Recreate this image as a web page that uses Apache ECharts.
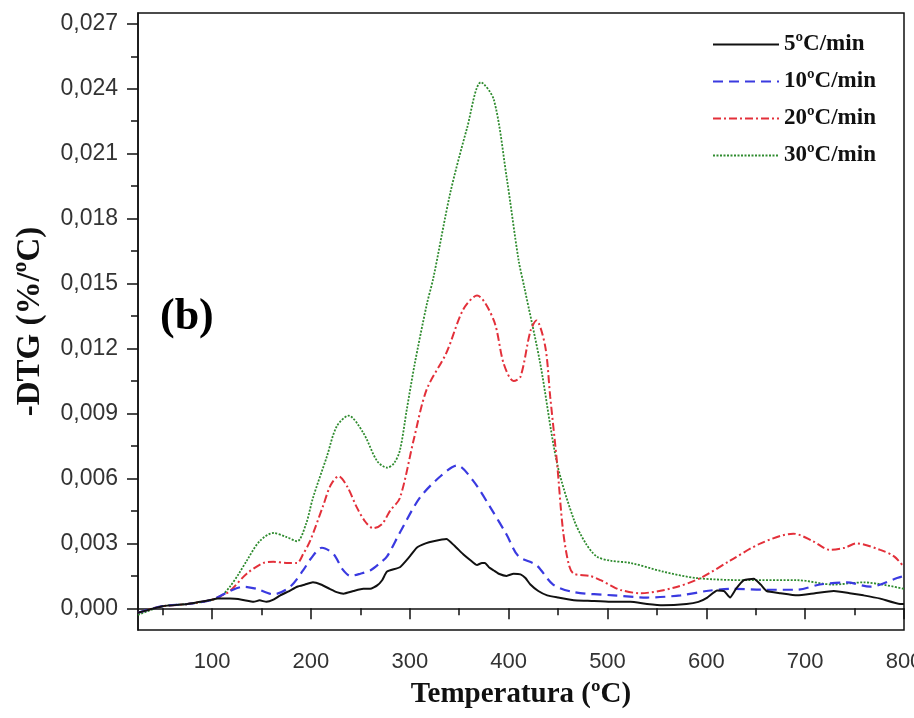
<!DOCTYPE html>
<html><head><meta charset="utf-8">
<script src="https://cdn.jsdelivr.net/npm/echarts@6/dist/echarts.min.js"></script>
<style>html,body{margin:0;padding:0;background:#fff}#c{width:914px;height:718px}</style>
</head><body><div id="c"></div>
<script>
const seriesNames = ['5ºC/min', '10ºC/min', '20ºC/min', '30ºC/min'];

const t5 = [25,50,75,100,105,118,130,142,148,155,162,169,178,186,194,202,210,219,226,233,243,253,260,267,272,277,290,300,307,316,324,337,345,354,362,368,373,376,380,385,390,398,405,412,417,422,430,439,450,466,480,503,523,540,556,580,592,601,611,618,624,630,638,648,655,661,675,692,710,729,745,759,776,796,800];
const v5 = [-0.0002,0.0001,0.0002,0.0004,0.00045,0.00045,0.0004,0.0003,0.00037,0.0003,0.0004,0.0006,0.0008,0.001,0.0011,0.0012,0.0011,0.0009,0.00075,0.00068,0.0008,0.0009,0.0009,0.00106,0.0013,0.0017,0.0019,0.0024,0.0028,0.003,0.0031,0.0032,0.0029,0.0025,0.0022,0.002,0.0021,0.0021,0.0019,0.00175,0.0016,0.0015,0.0016,0.00157,0.0014,0.0011,0.0008,0.0006,0.0005,0.00037,0.00035,0.0003,0.0003,0.0002,0.00014,0.0002,0.0003,0.0005,0.00083,0.0008,0.0005,0.0009,0.0013,0.00137,0.0011,0.0008,0.0007,0.0006,0.0007,0.0008,0.0007,0.0006,0.00045,0.0002,0.0002];

const t10 = [25,50,75,100,118,132,145,162,179,192,200,211,223,232,240,250,260,270,277,290,310,331,348,364,381,398,410,428,445,466,506,540,574,600,624,658,692,715,742,766,793,800];
const v10 = [-0.0002,0.0001,0.0002,0.0004,0.0008,0.001,0.0009,0.00065,0.001,0.00175,0.0023,0.0028,0.0025,0.0018,0.0015,0.0016,0.00175,0.0021,0.0024,0.0035,0.0051,0.0061,0.0066,0.0059,0.0047,0.0034,0.0024,0.002,0.0011,0.00075,0.0006,0.0005,0.0006,0.0008,0.0009,0.00086,0.00086,0.0011,0.0012,0.001,0.0014,0.0015];

const t20 = [25,50,75,100,110,118,135,152,162,175,186,192,199,212,220,228,237,246,255,263,272,280,290,304,317,337,354,368,385,395,405,412,422,428,437,442,449,455,461,466,482,493,503,513,533,567,594,624,655,688,708,725,740,752,776,790,800];
const v20 = [-0.0002,0.0001,0.0002,0.0004,0.0006,0.0008,0.0016,0.0021,0.00215,0.0021,0.0021,0.0025,0.0031,0.0047,0.0057,0.0061,0.0056,0.0047,0.004,0.0037,0.0039,0.0045,0.0051,0.0078,0.0101,0.0118,0.0138,0.01445,0.0133,0.0113,0.0105,0.0107,0.0128,0.0133,0.0121,0.0098,0.0067,0.0036,0.002,0.0016,0.0015,0.0013,0.00106,0.00085,0.0007,0.00095,0.0014,0.0022,0.003,0.00345,0.0031,0.0027,0.0028,0.003,0.0027,0.0024,0.0019];

const t30 = [25,50,75,100,110,118,127,135,148,162,175,186,195,202,216,226,238,253,267,277,284,290,297,305,317,324,341,358,372,385,398,410,416,432,449,466,478,489,503,523,556,590,641,692,728,759,800];
const v30 = [-0.0003,0.0001,0.0002,0.00038,0.0006,0.001,0.0016,0.0022,0.0031,0.00348,0.0033,0.0031,0.0039,0.0051,0.007,0.0084,0.0089,0.0081,0.0068,0.0065,0.0067,0.0073,0.0092,0.0113,0.014,0.0153,0.0192,0.0222,0.0243,0.0235,0.0199,0.0161,0.0148,0.0113,0.0067,0.0041,0.003,0.0024,0.0022,0.0021,0.0017,0.0014,0.0013,0.0013,0.0011,0.0012,0.0009];

const xLabelValues = [100,200,300,400,500,600,700,800];
const xMinorValues = [50,150,250,350,450,550,650,750];
const yLabelValues = [0,0.003,0.006,0.009,0.012,0.015,0.018,0.021,0.024,0.027];
const yMinorValues = [0.0015,0.0045,0.0075,0.0105,0.0135,0.0165,0.0195,0.0225,0.0255];

const zip = (t, v) => t.map((x, i) => [x, v[i]]);
const AX = '#111';
const serif = 'Liberation Serif';

const chart = echarts.init(document.getElementById('c'), null, {renderer: 'canvas'});
const xBase = {type: 'value', min: 25, max: 800, gridIndex: 0, position: 'bottom', splitLine: {show: false}};
const yBase = {type: 'value', min: -0.001, max: 0.0275, position: 'left', splitLine: {show: false}};

chart.setOption({
  animation: false,
  backgroundColor: '#fff',
  grid: {left: 138, right: 10, top: 13, bottom: 88, outerBoundsMode: 'none', containLabel: false,
    show: true, borderColor: AX, borderWidth: 1.5, backgroundColor: 'transparent'},
  xAxis: [
    Object.assign({}, xBase, {
      axisLine: {show: true, lineStyle: {color: AX, width: 1.5}},
      axisTick: {show: true, customValues: xLabelValues, length: 11, lineStyle: {color: AX, width: 1.5}},
      axisLabel: {customValues: xLabelValues, margin: 21, fontSize: 22, fontFamily: 'Liberation Sans', color: '#333', hideOverlap: false},
      name: 'Temperatura (ºC)', nameLocation: 'middle', nameGap: 50,
      nameTextStyle: {fontFamily: serif, fontWeight: 'bold', fontSize: 29, color: '#111'}
    }),
    Object.assign({}, xBase, {
      axisLine: {show: false},
      axisTick: {show: true, customValues: xMinorValues, length: 7, lineStyle: {color: AX, width: 1.5}},
      axisLabel: {show: false}
    })
  ],
  yAxis: [
    Object.assign({}, yBase, {
      axisLine: {show: true, lineStyle: {color: AX, width: 1.5}},
      axisTick: {show: true, customValues: yLabelValues, length: 11, lineStyle: {color: AX, width: 1.5}},
      axisLabel: {customValues: yLabelValues, margin: 20, fontSize: 23, fontFamily: 'Liberation Sans', color: '#333',
        formatter: v => v.toFixed(3).replace('.', ',')},
      name: '-DTG (%/ºC)', nameLocation: 'middle', nameGap: 91,
      nameTextStyle: {fontFamily: serif, fontWeight: 'bold', fontSize: 33, color: '#111'}
    }),
    Object.assign({}, yBase, {
      axisLine: {show: false},
      axisTick: {show: true, customValues: yMinorValues, length: 7, lineStyle: {color: AX, width: 1.5}},
      axisLabel: {show: false}
    })
  ],
  legend: {
    orient: 'vertical', left: 712, top: 33, padding: 0, itemWidth: 66, itemHeight: 20, itemGap: 14,
    data: seriesNames,
    itemStyle: {opacity: 0},
    textStyle: {fontFamily: serif, fontWeight: 'bold', fontSize: 23, color: '#111'}
  },
  graphic: [{
    type: 'text', left: 160, top: 296,
    style: {text: '(b)', fontFamily: serif, fontWeight: 'bold', fontSize: 44, fill: '#000'}
  }],
  series: [
    {name: seriesNames[3], type: 'line', data: zip(t30, v30), smooth: 0.3, symbol: 'none',
      lineStyle: {color: '#2e8b2e', width: 1.8, type: [2, 1.5]}, itemStyle: {color: '#2e8b2e'}},
    {name: seriesNames[2], type: 'line', data: zip(t20, v20), smooth: 0.3, symbol: 'none',
      lineStyle: {color: '#e3303a', width: 2, type: [8, 3, 2, 3]}, itemStyle: {color: '#e3303a'}},
    {name: seriesNames[1], type: 'line', data: zip(t10, v10), smooth: 0.3, symbol: 'none',
      lineStyle: {color: '#3a3ae0', width: 2.2, type: [10, 6]}, itemStyle: {color: '#3a3ae0'}},
    {name: seriesNames[0], type: 'line', data: zip(t5, v5), smooth: 0.15, symbol: 'none',
      lineStyle: {color: '#111', width: 2, type: 'solid'}, itemStyle: {color: '#111'}}
  ]
});
</script></body></html>
